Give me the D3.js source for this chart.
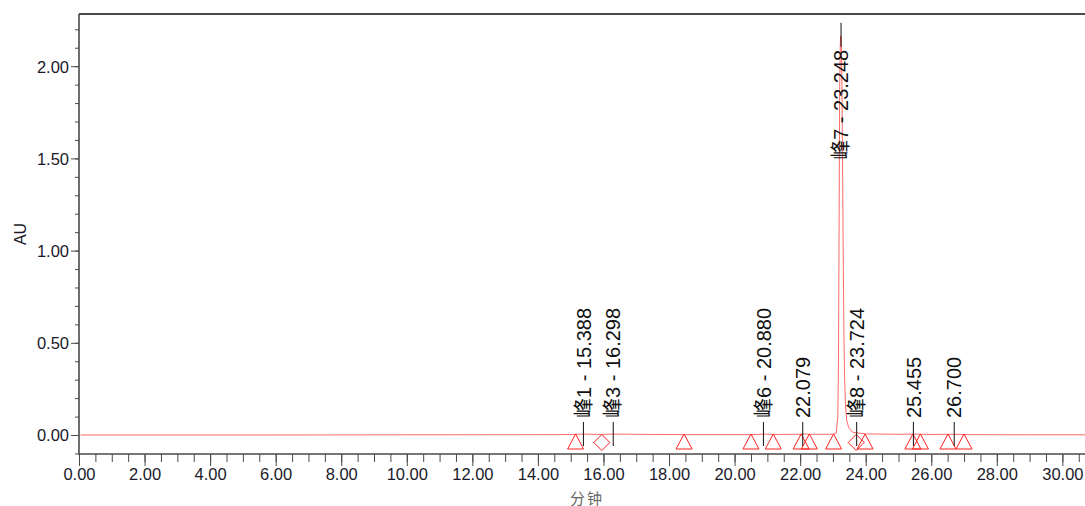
<!DOCTYPE html>
<html>
<head>
<meta charset="utf-8">
<script src="https://cdn.jsdelivr.net/npm/d3@7"></script>
<style>
  body { margin: 0; background: #fff; }
  svg { display: block; font-family: "Liberation Sans", Arial, "Noto Sans CJK SC", sans-serif; }
</style>
</head>
<body>
<script>
// chromatogram trace (minutes, AU)
var times = [0.05, 5.0, 10.0, 14.8, 15.388, 15.9, 16.298, 17.5, 18.5, 20.5, 20.88, 21.2, 22.0, 22.079, 22.3, 23.0,
  23.1, 23.15, 23.17, 23.19, 23.205, 23.225, 23.24, 23.255, 23.275, 23.295, 23.315, 23.335, 23.355, 23.38, 23.42, 23.48, 23.6,
  23.724, 24.0, 25.0, 25.455, 26.0, 26.7, 27.2, 29.0, 30.7];
var absorbance = [0.0, 0.0, 0.001, 0.002, 0.005, 0.003, 0.005, 0.003, 0.002, 0.002, 0.005, 0.003, 0.004, 0.006, 0.004, 0.004,
  0.01, 0.1, 0.4, 1.2, 1.85, 2.12, 2.165, 2.13, 1.9, 1.45, 0.95, 0.55, 0.32, 0.17, 0.08, 0.04, 0.015,
  0.012, 0.006, 0.004, 0.005, 0.003, 0.004, 0.002, 0.001, 0.001];

// peak labels
var peakNames = ["峰1", "峰3", "峰6", "", "峰7", "峰8", "", ""];
var peakTimes = [15.388, 16.298, 20.880, 22.079, 23.248, 23.724, 25.455, 26.700];
var peakHeights = [0.0, 0.0, 0.0, 0.0, 2.165, 0.0, 0.0, 0.0];

// integration markers
var triangleTimes = [15.15, 18.46, 20.50, 21.18, 22.03, 22.28, 23.02, 23.98, 25.44, 25.67, 26.51, 27.00];
var diamondTimes = [15.95, 23.71];

var yMajor = [0.0, 0.5, 1.0, 1.5, 2.0];
var xMajor = d3.range(0, 31, 2);

var width = 1085, height = 506;
var padL = 79, padR = 1085, padT = 14, padB = 454;

var svg = d3.select("body").append("svg").attr("width", width).attr("height", height);

var x = d3.scaleLinear().domain([0, 30.69]).range([padL, padR]);
var y = d3.scaleLinear().domain([-0.103, 2.283]).range([padB, padT]);

var axisColor = "#4a4a4a";
var textColor = "#1a1a2a";

// minor ticks
var yMinor = d3.range(-0.1, 2.25, 0.1).map(function (d) { return Math.round(d * 10) / 10; });
var xMinor = d3.range(0, 30.6, 0.5);

var gyMinor = svg.append("g").attr("transform", "translate(" + padL + ",0)")
  .call(d3.axisLeft(y).tickValues(yMinor).tickSize(4).tickSizeOuter(0).tickFormat(""));
var gyMajor = svg.append("g").attr("transform", "translate(" + padL + ",0)")
  .call(d3.axisLeft(y).tickValues(yMajor).tickSize(8).tickSizeOuter(0).tickPadding(2).tickFormat(d3.format(".2f")));
var gxMinor = svg.append("g").attr("transform", "translate(0," + padB + ")")
  .call(d3.axisBottom(x).tickValues(xMinor).tickSize(8).tickSizeOuter(0).tickFormat(""));
var gxMajor = svg.append("g").attr("transform", "translate(0," + padB + ")")
  .call(d3.axisBottom(x).tickValues(xMajor).tickSize(12).tickSizeOuter(0).tickPadding(2).tickFormat(d3.format(".2f")));

[gyMinor, gyMajor, gxMinor, gxMajor].forEach(function (g) {
  g.select(".domain").remove();
  g.selectAll(".tick line").attr("stroke", axisColor).attr("stroke-width", 1);
  g.selectAll(".tick text").attr("fill", textColor).attr("font-size", "16.5px");
});
gyMajor.selectAll(".tick text").attr("dy", "0.36em");

// frame lines
svg.append("line").attr("x1", padL).attr("x2", padL).attr("y1", padT).attr("y2", padB + 1)
  .attr("stroke", axisColor).attr("stroke-width", 1.6);
svg.append("line").attr("x1", padL).attr("x2", padR).attr("y1", padB).attr("y2", padB)
  .attr("stroke", axisColor).attr("stroke-width", 1.6);
svg.append("line").attr("x1", padL).attr("x2", padR).attr("y1", padT).attr("y2", padT)
  .attr("stroke", axisColor).attr("stroke-width", 1.8);

// axis titles
svg.append("text")
  .attr("transform", "translate(26," + (padT + padB) / 2 + ") rotate(-90)")
  .attr("text-anchor", "middle")
  .attr("fill", textColor)
  .attr("font-size", "16px")
  .text("AU");
svg.append("text")
  .attr("x", 587).attr("y", 504)
  .attr("text-anchor", "middle")
  .attr("fill", "#666")
  .attr("font-size", "15px")
  .attr("letter-spacing", "2px")
  .text("分钟");

// trace
var traceData = times.map(function (t, i) { return [t, absorbance[i]]; });
svg.append("path")
  .datum(traceData)
  .attr("fill", "none")
  .attr("stroke", "#ff2a2a")
  .attr("stroke-opacity", 0.7)
  .attr("stroke-width", 1)
  .attr("d", d3.line().x(function (d) { return x(d[0]); }).y(function (d) { return y(d[1]); }));

// markers
var mk = svg.append("g").attr("fill", "none").attr("stroke", "#ff2020").attr("stroke-width", 1);
mk.selectAll("path.tri")
  .data(triangleTimes)
  .enter()
  .append("path")
  .attr("class", "tri")
  .attr("d", function (d) {
    var cx = x(d), cy = y(0);
    return "M" + cx + "," + (cy - 1) + "L" + (cx + 8) + "," + (cy + 14) + "L" + (cx - 8) + "," + (cy + 14) + "Z";
  });
mk.selectAll("path.dia")
  .data(diamondTimes)
  .enter()
  .append("path")
  .attr("class", "dia")
  .attr("d", function (d) {
    var cx = x(d), cy = y(0) + 7.5;
    return "M" + cx + "," + (cy - 8) + "L" + (cx + 8) + "," + cy + "L" + cx + "," + (cy + 8) + "L" + (cx - 8) + "," + cy + "Z";
  });

// peak labels
var lab = svg.append("g");
peakTimes.forEach(function (t, i) {
  var px = x(t), py = y(peakHeights[i]);
  var txt = (peakNames[i] ? peakNames[i] + " - " : "") + t.toFixed(3);
  lab.append("line")
    .attr("x1", px).attr("x2", px)
    .attr("y1", py - 13).attr("y2", py + 11)
    .attr("stroke", "#111").attr("stroke-width", 1);
  var tall = py < 120;
  lab.append("text")
    .attr("transform", "translate(" + px + "," + (tall ? py + 14 : py - 17) + ") rotate(-90)")
    .attr("text-anchor", tall ? "end" : "start")
    .attr("dy", "0.36em")
    .attr("fill", "#111")
    .attr("font-size", "20px")
    .text(txt);
});
</script>
</body>
</html>
